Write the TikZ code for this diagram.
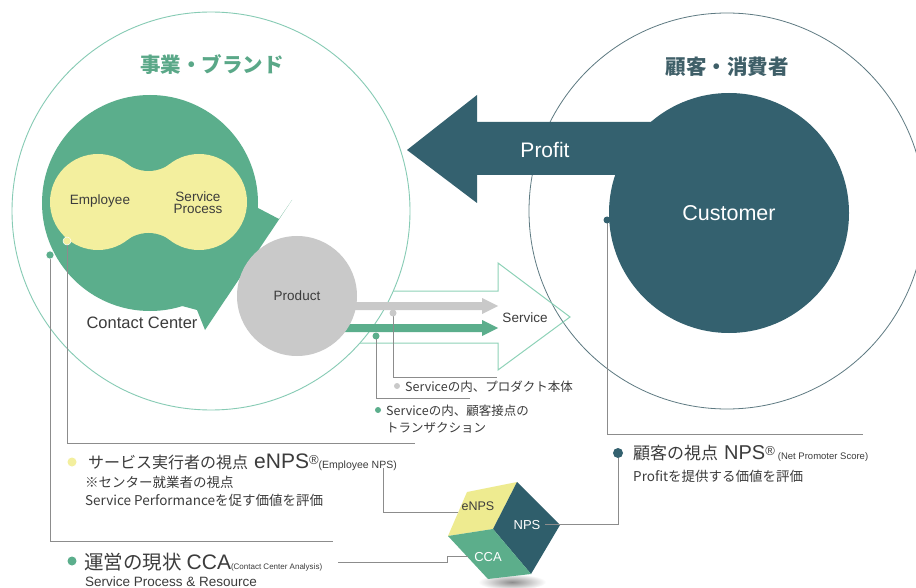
\documentclass[tikz,border=0pt]{standalone}
\usepackage{fontspec}
\setmainfont{Liberation Sans}
\newfontfamily\jp{Noto Sans CJK JP}
\newcommand\myfs[1]{\fontsize{#1}{#1}\selectfont}
\definecolor{cgreen}{HTML}{5BAE8C}
\definecolor{cyellow}{HTML}{F3EF9E}
\definecolor{cteal}{HTML}{34616F}
\definecolor{cgray}{HTML}{C9C9C9}
\definecolor{lgreen}{HTML}{86CBB4}
\definecolor{rline}{HTML}{5E7A82}
\definecolor{svcl}{HTML}{8ED2B8}
\definecolor{conng}{HTML}{8C8C8C}
\definecolor{txt}{HTML}{3C3C3C}
\definecolor{tgreen}{HTML}{5AA888}
\definecolor{ttitle}{HTML}{3F5F68}
\definecolor{cubey}{HTML}{EEEB90}
\definecolor{cubed}{HTML}{2F5E6B}
\definecolor{cubeg}{HTML}{5CAE8B}
\begin{document}
\begin{tikzpicture}[x=1pt,y=-1pt,
  conn/.style={draw=conng, line width=0.8pt},
  lbl/.style={inner sep=0pt, text=txt, anchor=base west},
  plain/.style={inner sep=0pt, text=txt},
  bul/.style={circle, inner sep=0pt, minimum size=#1},
  bigcirc/.style={circle, inner sep=0pt, minimum size=#1}]
\useasboundingbox (0,0) rectangle (916,588);
\clip (0,0) rectangle (916,588);
\fill[white] (0,0) rectangle (916,588);

% outer circles
\node[bigcirc=398pt, draw=lgreen, line width=0.9pt] (biz) at (211,211) {};
\node[bigcirc=396pt, draw=rline, line width=0.8pt] (cons) at (727,211) {};
\node[plain, text=tgreen, font=\jp\bfseries\myfs{20.5}] (bizT) at (212,65) {事業・ブランド};
\node[plain, text=ttitle, font=\jp\bfseries\myfs{20.5}] (consT) at (727,67) {顧客・消費者};

% service outline arrow
\coordinate (sv1) at (393,291);
\coordinate (sv2) at (360,343);
\draw[svcl, line width=1pt, line join=miter] (sv1) -- (498,291) -- (498,263) -- (570,317) -- (498,370) -- (498,343) -- (sv2);
\node[plain, font=\myfs{13.5}] (svc) at (525,318) {Service};

% product / transaction arrows
\fill[cgray] (297,302) -- (482,302) -- (482,298) -- (498,306) -- (482,314) -- (482,310) -- (297,310) -- cycle;
\fill[cgreen] (297,324) -- (482,324) -- (482,320) -- (498,328) -- (482,336) -- (482,332) -- (297,332) -- cycle;

% contact center shape
\fill[cgreen] (150,203) circle (108pt);
\fill[cgreen] (150,203) -- (250,170) -- (258,208) -- (279,219) -- (292,200) -- (205,330) -- (197,310) -- (160,300) -- cycle;
\begin{scope}
  \clip (127,163.8) rectangle (170,240.2);
  \fill[cyellow] (127,163.8) rectangle (170,240.2);
  \fill[cgreen] (148.5,135.5) circle (35.5pt);
  \fill[cgreen] (148.5,268.5) circle (35.5pt);
\end{scope}
\fill[cyellow] (98,202) circle (48pt) (199,202) circle (48pt);
\node[plain, font=\myfs{13.5}] (emp) at (100,201) {Employee};
\node[plain, font=\myfs{13.5}, align=center] (proc) at (198,203) {Service\\[-1.5pt]Process};
\node[plain, font=\myfs{16.5}] (cc) at (142,323) {Contact Center};

% product
\node[bigcirc=120pt, fill=cgray, text=txt, font=\myfs{13.5}] (prod) at (297,296) {Product};

% profit arrow and customer
\fill[cteal] (407,150) -- (477,95) -- (477,122) -- (700,122) -- (700,175) -- (477,175) -- (477,203) -- cycle;
\node[plain, text=white, font=\myfs{21}] (profit) at (545,150) {Profit};
\node[bigcirc=240pt, fill=cteal, text=white, font=\myfs{21.5}] (cust) at (729,213) {Customer};

% connector points
\coordinate (dotY) at (67,241);
\coordinate (dotG) at (50,255);
\coordinate (dotP) at (393,313);
\coordinate (dotT) at (376,336);
\coordinate (dotC) at (607,220);
\coordinate (endY) at (415,443);
\coordinate (endG) at (333,541);
\coordinate (endP) at (497,377);
\coordinate (endT) at (470,398);
\coordinate (endC) at (863,434);
\draw[conn] (dotY) |- (endY);
\draw[conn] (dotG) |- (endG);
\draw[conn] (dotP) |- (endP);
\draw[conn] (dotT) |- (endT);
\draw[conn] (dotC) |- (endC);
\node[bul=8pt, fill=cyellow, draw=white, line width=0.5pt] at (dotY) {};
\node[bul=8pt, fill=cgreen, draw=white, line width=0.5pt] at (dotG) {};
\node[bul=7pt, fill=cgray] at (dotP) {};
\node[bul=7pt, fill=cgreen] at (dotT) {};
\node[bul=7pt, fill=cteal] at (dotC) {};

% service labels
\node[bul=6pt, fill=cgray] (bP) at (397,386) {};
\node[lbl, font=\jp\myfs{12.5}] (lblP) at (405,391) {Serviceの内、プロダクト本体};
\node[bul=6pt, fill=cgreen] (bT) at (378,410) {};
\node[lbl, font=\jp\myfs{12.5}] (lblT1) at (386,415) {Serviceの内、顧客接点の};
\node[lbl, font=\jp\myfs{12.5}] (lblT2) at (386,432) {トランザクション};

% eNPS labels
\node[bul=9pt, fill=cyellow] (bE) at (72,462) {};
\node[lbl] (lblE) at (88,468) {\jp\myfs{16}サービス実行者の視点\hspace{6pt}\rmfamily\myfs{21}eNPS\myfs{13}\raisebox{4pt}{®}\myfs{10.5}(Employee NPS)};
\node[lbl, font=\jp\myfs{13.5}] (lblE2) at (85,487) {※センター就業者の視点};
\node[lbl, font=\jp\myfs{13.5}] (lblE3) at (85,505) {Service Performanceを促す価値を評価};

% CCA labels
\node[bul=9pt, fill=cgreen] (bC) at (72,561) {};
\node[lbl] (lblC) at (84,569) {\jp\myfs{19.5}運営の現状\hspace{5pt}\rmfamily\myfs{21}CCA\myfs{8}(Contact Center Analysis)};
\node[lbl, font=\myfs{13.5}] (lblC2) at (85,586) {Service Process \& Resource};

% NPS labels
\node[bul=10pt, fill=cteal] (bN) at (618,453) {};
\node[lbl] (lblN) at (633,459) {\jp\myfs{17}顧客の視点\hspace{6pt}\rmfamily\myfs{20}NPS\myfs{13}\raisebox{4pt}{®}\hspace{3pt}\myfs{9.5}(Net Promoter Score)};
\node[lbl, font=\jp\myfs{13.5}] (lblN2) at (633,481) {Profitを提供する価値を評価};

% cube
\shade[inner color=black!45, outer color=white] (512,582) ellipse (34pt and 8pt);
\fill[cubey] (467,492) -- (517,482) -- (493,529) -- (448,536) -- cycle;
\fill[cubed] (517,482) -- (560,525) -- (531,574) -- (493,529) -- cycle;
\fill[cubeg] (493,529) -- (531,574) -- (488,579) -- (448,536) -- cycle;
\node[plain, font=\myfs{12.5}] (cE) at (478,506) {eNPS};
\node[plain, text=white, font=\myfs{13}] (cN) at (527,525) {NPS};
\node[plain, text=white, font=\myfs{13}] (cC) at (488,557) {CCA};

% connectors to cube
\coordinate (eA) at (383,468);
\coordinate (eB) at (458,512);
\draw[conn] (eA) |- (eB);
\coordinate (cA) at (338,562);
\coordinate (cB) at (447,562);
\coordinate (cCc) at (447,556);
\coordinate (cD) at (468,556);
\draw[conn] (cA) -- (cB) -- (cCc) -- (cD);
\coordinate (nA) at (545,524);
\draw[conn] (nA) -| (bN);
\end{tikzpicture}
\end{document}
